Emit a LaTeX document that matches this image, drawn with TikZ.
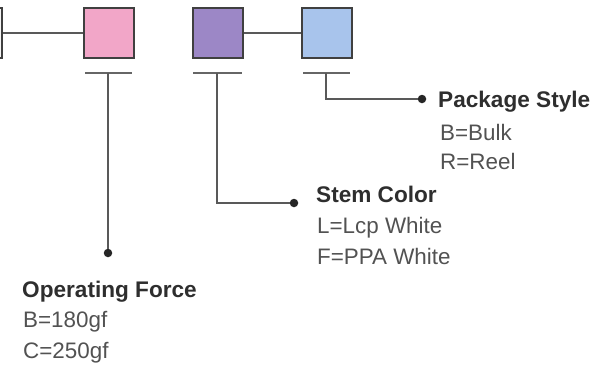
\documentclass[tikz,border=0pt]{standalone}
\usepackage{fontspec}
\setmainfont{Liberation Sans}
\begin{document}
\begin{tikzpicture}[x=1pt,y=-1pt,
  colbox/.style={draw=black!75,line width=1.8pt,minimum width=50pt,minimum height=50pt,inner sep=0pt},
  conn/.style={draw=black!65,line width=2pt},
  ubar/.style={draw=black!60,line width=2.8pt},
  dot/.style={circle,fill=black!85,inner sep=0pt,minimum size=8.5pt},
  title/.style={anchor=base west,inner sep=0pt,font=\fontsize{22.6}{25}\selectfont\bfseries,text=black!82},
  item/.style={anchor=base west,inner sep=0pt,font=\fontsize{22.4}{25}\selectfont,text=black!68}]
\useasboundingbox (0,0) rectangle (613,384);
\definecolor{pinkc}{HTML}{F2A6C8}
\definecolor{purpc}{HTML}{9C87C6}
\definecolor{bluec}{HTML}{A8C4EC}
\begin{scope}
\clip (0,0) rectangle (613,384);
\node[colbox,fill=black!4] (b0) at (-23,33) {};
\end{scope}
\node[colbox,fill=pinkc] (b1) at (109,33) {};
\node[colbox,fill=purpc] (b2) at (218,33) {};
\node[colbox,fill=bluec] (b3) at (327,33) {};
\draw[conn] (b0.east) -- (b1.west);
\draw[conn] (b2.east) -- (b3.west);
% underbars
\coordinate (u1l) at (85,73); \coordinate (u1r) at (132,73);
\coordinate (u2l) at (193,73); \coordinate (u2r) at (242,73);
\coordinate (u3l) at (303,73); \coordinate (u3r) at (350,73);
\draw[ubar] (u1l) -- (u1r);
\draw[ubar] (u2l) -- (u2r);
\draw[ubar] (u3l) -- (u3r);
\coordinate (t1) at (108,73);
\coordinate (t2) at (217,73);
\coordinate (t3) at (326,73);
% dots
\node[dot] (d1) at (108,253) {};
\node[dot] (d2) at (294,203) {};
\node[dot] (d3) at (422,99) {};
\draw[conn] (t1) -- (d1);
\draw[conn] (t2) |- (d2);
\draw[conn] (t3) |- (d3);
% texts
\node[title] (ps) at (438,107) {Package Style};
\node[item] (ps1) at (440,140) {B=Bulk};
\node[item] (ps2) at (440,169) {R=Reel};
\node[title] (sc) at (316,202) {Stem Color};
\node[item] (sc1) at (317,233) {L=Lcp White};
\node[item] (sc2) at (317,264) {F=PPA White};
\node[title] (of) at (22,297) {Operating Force};
\node[item] (of1) at (23,327) {B=180gf};
\node[item] (of2) at (23,358) {C=250gf};
\end{tikzpicture}
\end{document}
